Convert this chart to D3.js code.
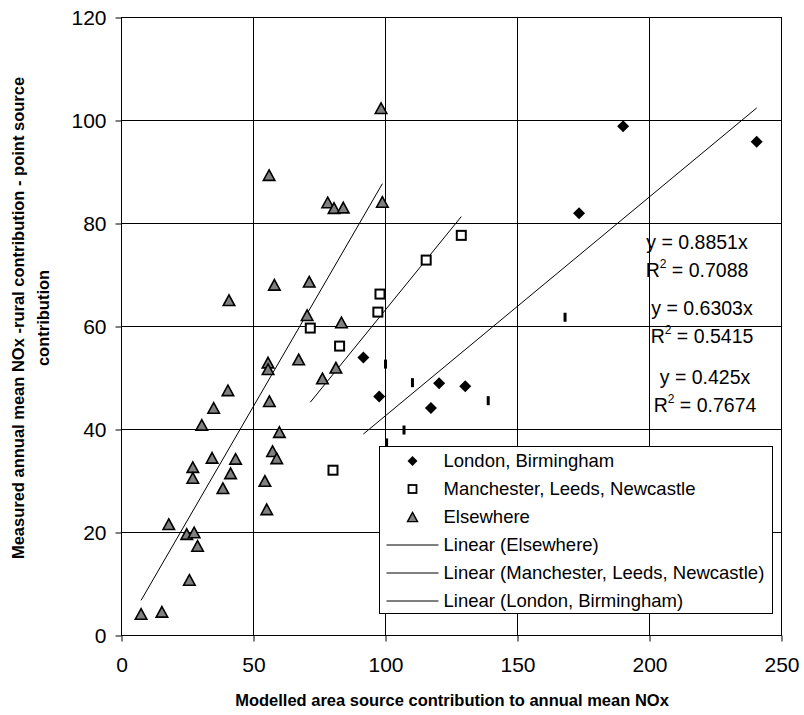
<!DOCTYPE html>
<html>
<head>
<meta charset="utf-8">
<script src="https://cdn.jsdelivr.net/npm/d3@7/dist/d3.min.js"></script>
<style>
  html, body { margin: 0; padding: 0; background: #fff; }
  svg { display: block; font-family: "Liberation Sans", Arial, sans-serif; }
</style>
</head>
<body>
<svg id="chart" width="804" height="715"></svg>
<script>
// Axis ticks
const xTicks = [0, 50, 100, 150, 200, 250];
const yTicks = [0, 20, 40, 60, 80, 100, 120];

// London, Birmingham
const londonX = [240.8, 190.2, 173.5, 91.8, 97.8, 120.5, 130.4, 117.4];
const londonY = [95.8, 98.8, 81.9, 53.9, 46.3, 48.9, 48.3, 44.1];

// Manchester, Leeds, Newcastle
const northX = [128.9, 115.6, 98.1, 97.3, 71.7, 82.8, 80.3];
const northY = [77.6, 72.8, 66.2, 62.7, 59.6, 56.1, 32.0];

// Elsewhere
const elseX = [98.5, 56.1, 78.3, 80.7, 84.2, 99.0, 58.1, 71.3, 40.9, 70.5, 83.5,
               55.7, 55.7, 67.3, 81.4, 76.3, 40.5, 35.1, 30.6, 56.2, 60.0, 57.4,
               59.0, 34.5, 43.4, 27.2, 27.2, 41.5, 38.6, 54.5, 55.2, 18.1, 24.9,
               27.7, 29.0, 25.9, 7.6, 15.5];
const elseY = [102.3, 89.3, 84.0, 82.9, 83.0, 84.1, 68.0, 68.6, 65.0, 62.1, 60.7,
               52.9, 51.6, 53.5, 51.9, 49.8, 47.5, 44.1, 40.8, 45.4, 39.4, 35.7,
               34.3, 34.4, 34.2, 32.6, 30.5, 31.4, 28.5, 29.9, 24.4, 21.5, 19.6,
               19.9, 17.3, 10.7, 4.1, 4.5];

// Extra series plotted with a short vertical bar marker (not in legend)
const barX = [168.2, 100.2, 110.4, 139.1, 107.2, 100.6];
const barY = [61.7, 52.6, 49.0, 45.5, 39.8, 37.3];

// Zero-intercept linear fits
const fitSlopes = { elsewhere: 0.8851, north: 0.6303, london: 0.425 };
const fitR2 = { elsewhere: 0.7088, north: 0.5415, london: 0.7674 };

const legendLabels = [
  "London, Birmingham",
  "Manchester, Leeds, Newcastle",
  "Elsewhere",
  "Linear (Elsewhere)",
  "Linear (Manchester, Leeds, Newcastle)",
  "Linear (London, Birmingham)"
];

const svg = d3.select("#chart");
const plotL = 121, plotR = 781, plotT = 17, plotB = 635;

const x = d3.scaleLinear().domain([0, 250]).range([plotL, plotR]);
const y = d3.scaleLinear().domain([0, 120]).range([plotB, plotT]);
const crisp = v => Math.round(v) + 0.5;

// Grid
const grid = svg.append("g");
grid.selectAll("line.v").data(xTicks).join("line")
  .attr("x1", d => crisp(x(d))).attr("x2", d => crisp(x(d)))
  .attr("y1", plotT).attr("y2", plotB)
  .attr("stroke", "#000").attr("stroke-width", 1);
grid.selectAll("line.h").data(yTicks).join("line")
  .attr("y1", d => crisp(y(d))).attr("y2", d => crisp(y(d)))
  .attr("x1", plotL).attr("x2", plotR)
  .attr("stroke", "#000").attr("stroke-width", 1);

// Axes
const xAxis = d3.axisBottom(x).tickValues(xTicks).tickSize(6).tickSizeOuter(0).tickPadding(16);
const yAxis = d3.axisLeft(y).tickValues(yTicks).tickSize(6).tickSizeOuter(0).tickPadding(9);
const gx = svg.append("g").attr("transform", `translate(0.5,${crisp(y(0))})`).call(xAxis);
const gy = svg.append("g").attr("transform", `translate(${crisp(x(0))},0.5)`).call(yAxis);
[gx, gy].forEach(g => {
  g.selectAll("path.domain").remove();
  g.selectAll("line").attr("stroke", "#000");
  g.selectAll("text").attr("font-size", 21).attr("fill", "#000")
    .attr("font-family", "'Liberation Sans', Arial, sans-serif");
});

// Trend lines over each series' x range
const fits = [
  { xs: elseX, k: fitSlopes.elsewhere },
  { xs: northX, k: fitSlopes.north },
  { xs: londonX, k: fitSlopes.london }
];
svg.append("g").selectAll("line").data(fits).join("line")
  .attr("x1", d => x(d3.min(d.xs))).attr("y1", d => y(d.k * d3.min(d.xs)))
  .attr("x2", d => x(d3.max(d.xs))).attr("y2", d => y(d.k * d3.max(d.xs)))
  .attr("stroke", "#000").attr("stroke-width", 1);

// Marker shapes
const triPath = s => `M0,${-s * 0.46}L${s / 2},${s * 0.46}L${-s / 2},${s * 0.46}Z`;
const diaPath = s => `M0,${-s / 2}L${s / 2},0L0,${s / 2}L${-s / 2},0Z`;

const marks = svg.append("g");
marks.selectAll("rect.bar").data(d3.range(barX.length)).join("rect")
  .attr("x", i => x(barX[i]) - 1.5).attr("y", i => y(barY[i]) - 4.5)
  .attr("width", 3).attr("height", 9).attr("fill", "#000");

marks.selectAll("path.tri").data(d3.range(elseX.length)).join("path")
  .attr("d", triPath(11.5))
  .attr("transform", i => `translate(${x(elseX[i])},${y(elseY[i])})`)
  .attr("fill", "#808080").attr("stroke", "#000").attr("stroke-width", 1.6)
  .attr("stroke-linejoin", "miter");

marks.selectAll("rect.sq").data(d3.range(northX.length)).join("rect")
  .attr("x", i => x(northX[i]) - 4.5).attr("y", i => y(northY[i]) - 4.5)
  .attr("width", 9).attr("height", 9)
  .attr("fill", "#fff").attr("stroke", "#000").attr("stroke-width", 2);

marks.selectAll("path.dia").data(d3.range(londonX.length)).join("path")
  .attr("d", diaPath(12))
  .attr("transform", i => `translate(${x(londonX[i])},${y(londonY[i])})`)
  .attr("fill", "#000");

// Top and right border of the plot area
svg.append("rect")
  .attr("x", crisp(plotL)).attr("y", crisp(plotT))
  .attr("width", Math.round(plotR) - Math.round(plotL)).attr("height", Math.round(plotB) - Math.round(plotT))
  .attr("fill", "none").attr("stroke", "#000");

// Fit equations
const eqs = [
  { k: fitSlopes.elsewhere, r: fitR2.elsewhere, cx: 697, cy: 242 },
  { k: fitSlopes.north, r: fitR2.north, cx: 702, cy: 308 },
  { k: fitSlopes.london, r: fitR2.london, cx: 705, cy: 377 }
];
const eqG = svg.append("g").attr("font-size", 19.5).attr("fill", "#000").attr("text-anchor", "middle");
eqs.forEach(e => {
  eqG.append("text").attr("x", e.cx).attr("y", e.cy).attr("dy", "0.35em")
    .text(`y = ${e.k}x`);
  const t = eqG.append("text").attr("x", e.cx).attr("y", e.cy + 28).attr("dy", "0.35em");
  t.append("tspan").text("R");
  t.append("tspan").attr("font-size", 12).attr("dy", "-0.7em").text("2");
  t.append("tspan").attr("dy", "0.45em").text(` = ${e.r}`);
});

// Legend
const lg = svg.append("g").attr("transform", "translate(379.5,446.5)");
lg.append("rect").attr("width", 393).attr("height", 167)
  .attr("fill", "#fff").attr("stroke", "#000");
const rowY = i => 14.5 + i * 28;
const mx = 33;
lg.append("path").attr("d", diaPath(10)).attr("transform", `translate(${mx},${rowY(0)})`).attr("fill", "#000");
lg.append("rect").attr("x", mx - 4).attr("y", rowY(1) - 4).attr("width", 8).attr("height", 8)
  .attr("fill", "#fff").attr("stroke", "#000").attr("stroke-width", 1.8);
lg.append("path").attr("d", triPath(10)).attr("transform", `translate(${mx},${rowY(2)})`)
  .attr("fill", "#808080").attr("stroke", "#000").attr("stroke-width", 1.4);
[3, 4, 5].forEach(i => {
  lg.append("line").attr("x1", 7).attr("x2", 59).attr("y1", rowY(i)).attr("y2", rowY(i))
    .attr("stroke", "#000").attr("stroke-width", 1);
});
lg.selectAll("text").data(legendLabels).join("text")
  .attr("x", 64).attr("y", (d, i) => rowY(i)).attr("dy", "0.35em")
  .attr("font-size", 18.5).attr("fill", "#000").text(d => d);

// Axis titles
svg.append("text").attr("x", 452).attr("y", 700).attr("dy", "0.35em")
  .attr("text-anchor", "middle").attr("font-size", 16.5).attr("font-weight", "bold")
  .text("Modelled area source contribution to annual mean NOx");
const yt = svg.append("text").attr("transform", "translate(18,318) rotate(-90)")
  .attr("text-anchor", "middle").attr("font-size", 16.5).attr("font-weight", "bold");
yt.append("tspan").attr("x", 0).attr("dy", "0.35em").text("Measured annual mean NOx -rural contribution - point source");
yt.append("tspan").attr("x", 0).attr("dy", "1.5em").text("contribution");
</script>
</body>
</html>
